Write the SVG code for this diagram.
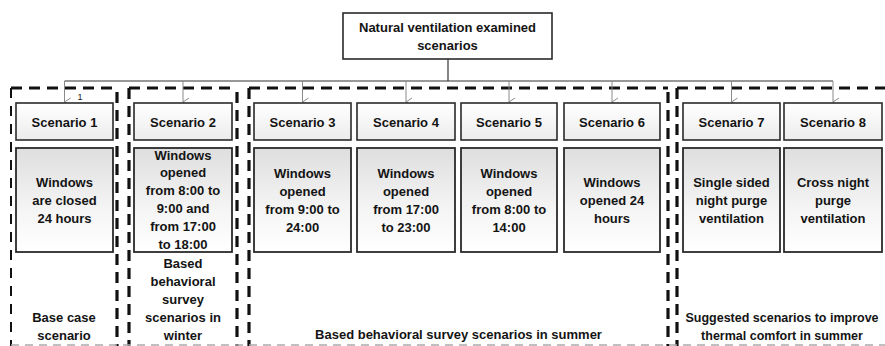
<svg xmlns="http://www.w3.org/2000/svg" width="885" height="346" viewBox="0 0 885 346">
<defs>
<linearGradient id="gContent" x1="0" y1="0" x2="0" y2="1">
<stop offset="0" stop-color="#dedede"/>
<stop offset="0.6" stop-color="#f5f5f5"/>
<stop offset="1" stop-color="#ffffff"/>
</linearGradient>
<linearGradient id="gTitle" x1="0" y1="0" x2="0" y2="1">
<stop offset="0" stop-color="#ffffff"/>
<stop offset="1" stop-color="#ececec"/>
</linearGradient>
<marker id="arr" viewBox="0 0 10 10" refX="5" refY="9" markerWidth="10" markerHeight="10" markerUnits="userSpaceOnUse" orient="auto-start-reverse">
<path d="M1,3 L5,9 L9,3" fill="none" stroke="#8a8a8a" stroke-width="1"/>
</marker>
</defs>
<style>
text{font-family:"Liberation Sans",Arial,sans-serif;font-weight:bold;font-size:13px;fill:#141414;text-anchor:middle}
.title{fill:url(#gTitle);stroke:#2a2a2a;stroke-width:1.6}
.content{fill:url(#gContent);stroke:#2a2a2a;stroke-width:1.8}
.top{fill:#ffffff;stroke:#2a2a2a;stroke-width:1.6}
.dthick{fill:none;stroke:#111;stroke-width:3.2;stroke-dasharray:11 7}
.dthin{fill:none;stroke:#111;stroke-width:2;stroke-dasharray:10 8}
.dbot{fill:none;stroke:#aaaaaa;stroke-width:1.5;stroke-dasharray:8 6}
.conn{fill:none;stroke:#333;stroke-width:1.2}
.arrow{fill:none;stroke:#8a8a8a;stroke-width:1;marker-end:url(#arr)}
.small{font-size:9px;font-weight:normal;fill:#222}
.narrow{font-size:12.5px}
</style>

<g id="group-frames">
<path class="dthick" d="M11,88 H117"/>
<path class="dthin" d="M11,88 V346"/>
<path class="dthick" d="M117,92 V346"/>
<path class="dthick" d="M129,88 H237"/>
<path class="dthick" d="M129,88 V346"/>
<path class="dthick" d="M237,92 V346"/>
<path class="dthick" d="M249,88 H668"/>
<path class="dthick" d="M249,88 V346"/>
<path class="dthick" d="M668,92 V346"/>
<path class="dthick" d="M677,88 H885"/>
<path class="dthick" d="M677,88 V346"/>
<path class="dbot" d="M11,345 H885"/>
</g>

<g id="connectors">
<path class="conn" d="M448,59 V81" stroke-width="2"/>
<path class="conn" d="M64.5,81 H833"/>
<path class="arrow" d="M64.5,81 V102"/>
<path class="arrow" d="M183,81 V102"/>
<path class="arrow" d="M302.5,81 V102"/>
<path class="arrow" d="M406,81 V102"/>
<path class="arrow" d="M509,81 V102"/>
<path class="arrow" d="M612,81 V102"/>
<path class="arrow" d="M731.5,81 V102"/>
<path class="arrow" d="M833,81 V102"/>
<text class="small" x="80" y="100">1</text>
</g>

<g id="root">
<rect class="top" x="343" y="13" width="209" height="46"/>
<text x="447.5" y="31.5">Natural ventilation examined</text>
<text x="447.5" y="49.5">scenarios</text>
</g>

<g id="scenario1">
<rect class="title" x="16" y="103" width="97" height="37"/>
<text x="64.5" y="126.5">Scenario 1</text>
<rect class="content" x="16" y="148" width="97" height="104"/>
<text x="64.5" y="186.5">Windows<tspan x="64.5" dy="18">are closed</tspan><tspan x="64.5" dy="18">24 hours</tspan></text>
</g>

<g id="scenario2">
<rect class="title" x="134" y="103" width="98" height="37"/>
<text x="183" y="126.5">Scenario 2</text>
<rect class="content" x="134" y="148" width="98" height="104"/>
<text x="183" y="159.5">Windows<tspan x="183" dy="17.8">opened</tspan><tspan x="183" dy="17.8">from 8:00 to</tspan><tspan x="183" dy="17.8">9:00 and</tspan><tspan x="183" dy="17.8">from 17:00</tspan><tspan x="183" dy="17.8">to 18:00</tspan></text>
</g>

<g id="scenario3">
<rect class="title" x="254" y="103" width="97" height="37"/>
<text x="302.5" y="126.5">Scenario 3</text>
<rect class="content" x="254" y="148" width="97" height="104"/>
<text x="302.5" y="177.5">Windows<tspan x="302.5" dy="18">opened</tspan><tspan x="302.5" dy="18">from 9:00 to</tspan><tspan x="302.5" dy="18">24:00</tspan></text>
</g>

<g id="scenario4">
<rect class="title" x="357" y="103" width="98" height="37"/>
<text x="406" y="126.5">Scenario 4</text>
<rect class="content" x="357" y="148" width="98" height="104"/>
<text x="406" y="177.5">Windows<tspan x="406" dy="18">opened</tspan><tspan x="406" dy="18">from 17:00</tspan><tspan x="406" dy="18">to 23:00</tspan></text>
</g>

<g id="scenario5">
<rect class="title" x="461" y="103" width="96" height="37"/>
<text x="509" y="126.5">Scenario 5</text>
<rect class="content" x="461" y="148" width="96" height="104"/>
<text x="509" y="177.5">Windows<tspan x="509" dy="18">opened</tspan><tspan x="509" dy="18">from 8:00 to</tspan><tspan x="509" dy="18">14:00</tspan></text>
</g>

<g id="scenario6">
<rect class="title" x="564" y="103" width="96" height="37"/>
<text x="612" y="126.5">Scenario 6</text>
<rect class="content" x="564" y="148" width="96" height="104"/>
<text x="612" y="186.5">Windows<tspan x="612" dy="18">opened 24</tspan><tspan x="612" dy="18">hours</tspan></text>
</g>

<g id="scenario7">
<rect class="title" x="683" y="103" width="97" height="37"/>
<text x="731.5" y="126.5">Scenario 7</text>
<rect class="content" x="683" y="148" width="97" height="104"/>
<text x="731.5" y="186.5">Single sided<tspan x="731.5" dy="18">night purge</tspan><tspan x="731.5" dy="18">ventilation</tspan></text>
</g>

<g id="scenario8">
<rect class="title" x="784" y="103" width="98" height="37"/>
<text x="833" y="126.5">Scenario 8</text>
<rect class="content" x="784" y="148" width="98" height="104"/>
<text x="833" y="186.5">Cross night<tspan x="833" dy="18">purge</tspan><tspan x="833" dy="18">ventilation</tspan></text>
</g>

<g id="group-labels">
<text x="64" y="321.5">Base case<tspan x="64" dy="18">scenario</tspan></text>
<text x="183" y="267.5">Based<tspan x="183" dy="18">behavioral</tspan><tspan x="183" dy="18">survey</tspan><tspan x="183" dy="18">scenarios in</tspan><tspan x="183" dy="18">winter</tspan></text>
<text x="458.5" y="338.5">Based behavioral survey scenarios in summer</text>
<text class="narrow" x="782" y="321.5">Suggested scenarios to improve<tspan x="782" dy="18">thermal comfort in summer</tspan></text>
</g>
</svg>
